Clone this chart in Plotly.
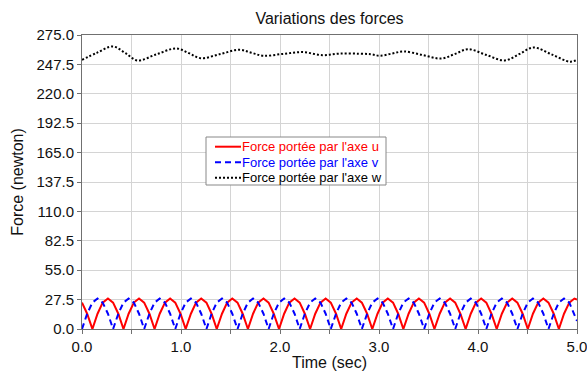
import plotly.graph_objects as go

# Time samples (sec) shared by u and v series
t_uv = [0.000, 0.052, 0.105, 0.157, 0.209, 0.262, 0.314, 0.367, 0.419, 0.471,
        0.524, 0.576, 0.628, 0.681, 0.733, 0.785, 0.838, 0.890, 0.942, 0.995,
        1.047, 1.100, 1.152, 1.204, 1.257, 1.309, 1.361, 1.414, 1.466, 1.518,
        1.571, 1.623, 1.676, 1.728, 1.780, 1.833, 1.885, 1.937, 1.990, 2.042,
        2.094, 2.147, 2.199, 2.251, 2.304, 2.356, 2.409, 2.461, 2.513, 2.566,
        2.618, 2.670, 2.723, 2.775, 2.827, 2.880, 2.932, 2.985, 3.037, 3.089,
        3.142, 3.194, 3.246, 3.299, 3.351, 3.403, 3.456, 3.508, 3.560, 3.613,
        3.665, 3.718, 3.770, 3.822, 3.875, 3.927, 3.979, 4.032, 4.084, 4.136,
        4.189, 4.241, 4.294, 4.346, 4.398, 4.451, 4.503, 4.555, 4.608, 4.660,
        4.712, 4.765, 4.817, 4.869, 4.922, 4.974, 5.000]

force_u = [24.7, 14.3, 0.0, 14.3, 24.7, 28.5, 24.7, 14.3, 0.0, 14.3, 24.7, 28.5,
           24.7, 14.3, 0.0, 14.3, 24.7, 28.5, 24.7, 14.3, 0.0, 14.3, 24.7, 28.5,
           24.7, 14.3, 0.0, 14.3, 24.7, 28.5, 24.7, 14.3, 0.0, 14.3, 24.7, 28.5,
           24.7, 14.3, 0.0, 14.3, 24.7, 28.5, 24.7, 14.3, 0.0, 14.3, 24.7, 28.5,
           24.7, 14.3, 0.0, 14.3, 24.7, 28.5, 24.7, 14.3, 0.0, 14.3, 24.7, 28.5,
           24.7, 14.3, 0.0, 14.3, 24.7, 28.5, 24.7, 14.3, 0.0, 14.3, 24.7, 28.5,
           24.7, 14.3, 0.0, 14.3, 24.7, 28.5, 24.7, 14.3, 0.0, 14.3, 24.7, 28.5,
           24.7, 14.3, 0.0, 14.3, 24.7, 28.5, 24.7, 14.3, 0.0, 14.3, 24.7, 28.5,
           27.6]

force_v = [0.0, 14.3, 24.7, 28.5, 24.7, 14.3, 0.0, 14.3, 24.7, 28.5, 24.7, 14.3,
           0.0, 14.3, 24.7, 28.5, 24.7, 14.3, 0.0, 14.3, 24.7, 28.5, 24.7, 14.3,
           0.0, 14.3, 24.7, 28.5, 24.7, 14.3, 0.0, 14.3, 24.7, 28.5, 24.7, 14.3,
           0.0, 14.3, 24.7, 28.5, 24.7, 14.3, 0.0, 14.3, 24.7, 28.5, 24.7, 14.3,
           0.0, 14.3, 24.7, 28.5, 24.7, 14.3, 0.0, 14.3, 24.7, 28.5, 24.7, 14.3,
           0.0, 14.3, 24.7, 28.5, 24.7, 14.3, 0.0, 14.3, 24.7, 28.5, 24.7, 14.3,
           0.0, 14.3, 24.7, 28.5, 24.7, 14.3, 0.0, 14.3, 24.7, 28.5, 24.7, 14.3,
           0.0, 14.3, 24.7, 28.5, 24.7, 14.3, 0.0, 14.3, 24.7, 28.5, 24.7, 14.3,
           7.5]

# w series (read at key points)
t_w = [0.00, 0.15, 0.31, 0.44, 0.56, 0.75, 0.95, 1.08, 1.20, 1.40, 1.59, 1.71,
       1.83, 2.03, 2.23, 2.43, 2.60, 2.80, 2.92, 3.01, 3.13, 3.25, 3.44, 3.63,
       3.77, 3.90, 4.08, 4.27, 4.42, 4.56, 4.75, 4.93, 5.00]
force_w = [251.8, 258.3, 264.3, 258.0, 251.2, 256.8, 262.4, 258.0, 253.3, 257.3,
           261.2, 258.4, 255.6, 257.3, 259.0, 256.1, 257.6, 257.5, 257.0, 255.6,
           257.6, 259.6, 256.3, 253.0, 257.4, 261.7, 256.5, 251.2, 257.3, 263.3,
           256.6, 250.0, 251.8]

names = ["Force portée par l'axe u", "Force portée par l'axe v", "Force portée par l'axe w"]
colors = ["#ff0000", "#0000ff", "#000000"]
dashes = ["solid", "6px,4px", "2px,2px"]

y_ticks = [0.0, 27.5, 55.0, 82.5, 110.0, 137.5, 165.0, 192.5, 220.0, 247.5, 275.0]
x_ticks = [0.0, 1.0, 2.0, 3.0, 4.0, 5.0]

W, H = 587, 372
ML, MR, MT, MB = 82, 10, 35, 43
PW, PH = W - ML - MR, H - MT - MB


def px_x(px):
    return (px - ML) / PW


def px_y(py):
    return (H - MB - py) / PH


fig = go.Figure()
fig.add_trace(go.Scatter(x=t_uv, y=force_u, mode="lines", name=names[0],
                         line=dict(color=colors[0], width=2, dash=dashes[0])))
fig.add_trace(go.Scatter(x=t_uv, y=force_v, mode="lines", name=names[1],
                         line=dict(color=colors[1], width=2, dash=dashes[1])))
fig.add_trace(go.Scatter(x=t_w, y=force_w, mode="lines", name=names[2],
                         line=dict(color=colors[2], width=2, dash=dashes[2],
                                   shape="spline", smoothing=1.0)))

font_family = "Liberation Sans, Arial, sans-serif"
grid = "#d4d4d4"
axline = "#707070"

# Legend box drawn to match the original's compact layout
shapes = [dict(type="rect", xref="paper", yref="paper",
               x0=px_x(206), x1=px_x(386), y0=px_y(185), y1=px_y(137),
               line=dict(color="#888888", width=1), fillcolor="white", layer="above")]
annotations = []
row_y = [146.7, 162.2, 177.7]
for name, col, dsh, ry in zip(names, colors, dashes, row_y):
    shapes.append(dict(type="line", xref="paper", yref="paper",
                       x0=px_x(215), x1=px_x(241), y0=px_y(ry), y1=px_y(ry),
                       line=dict(color=col, width=2, dash=dsh), layer="above"))
    annotations.append(dict(xref="paper", yref="paper", x=px_x(240), y=px_y(ry),
                            xanchor="left", yanchor="middle", showarrow=False,
                            text=name, font=dict(size=13, color=col)))

fig.update_layout(
    width=W, height=H,
    margin=dict(l=ML, r=MR, t=MT, b=MB, autoexpand=False),
    paper_bgcolor="white", plot_bgcolor="white",
    font=dict(family=font_family, size=15, color="#111111"),
    title=dict(text="Variations des forces", x=(ML + W - MR) / 2 / W, xanchor="center",
               y=1 - 18 / H, yanchor="middle", font=dict(size=16, color="#111111")),
    showlegend=False,
    shapes=shapes,
    annotations=annotations,
)
fig.update_xaxes(range=[0, 5], tickvals=x_ticks, tickformat=".1f",
                 ticks="outside", ticklen=4, tickcolor=axline,
                 showgrid=True, gridcolor=grid, automargin=False,
                 ticklabeloverflow="allow",
                 minor=dict(dtick=0.5, tick0=0, showgrid=True, gridcolor=grid,
                            ticks="outside", ticklen=4, tickcolor=axline),
                 showline=True, linecolor=axline, mirror=True, linewidth=1,
                 zeroline=False, tickfont=dict(size=15),
                 title=dict(text="Time (sec)", standoff=2, font=dict(size=16)))
fig.update_yaxes(range=[0, 275], tickvals=y_ticks, tickformat=".1f",
                 ticks="outside", ticklen=4, tickcolor=axline,
                 showgrid=True, gridcolor=grid, automargin=False,
                 ticklabeloverflow="allow",
                 showline=True, linecolor=axline, mirror=True, linewidth=1,
                 zeroline=False, tickfont=dict(size=15),
                 title=dict(text="Force (newton)", standoff=8, font=dict(size=16)))

fig.write_html("out.html")
